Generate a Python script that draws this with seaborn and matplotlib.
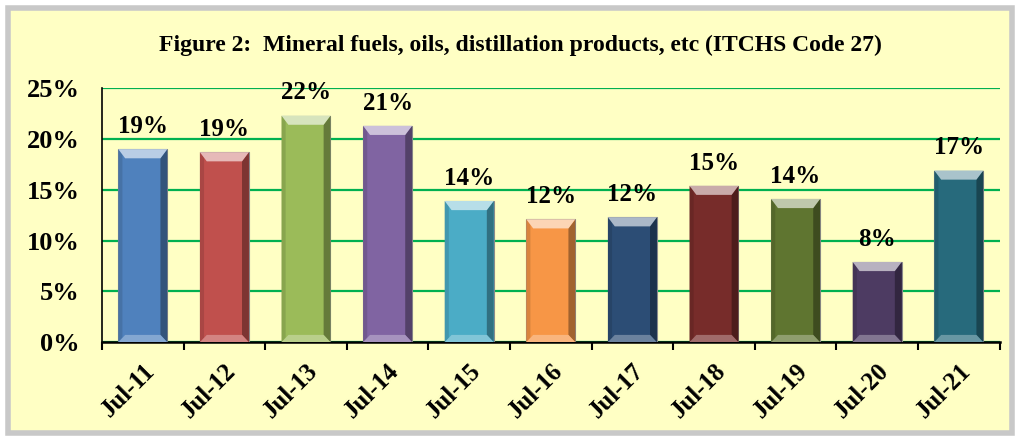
import numpy as np
import pandas as pd
import matplotlib
matplotlib.use('Agg')
import matplotlib.pyplot as plt
import seaborn as sns
from matplotlib.patches import FancyBboxPatch, Polygon
from matplotlib.colors import to_rgb
from matplotlib.ticker import FuncFormatter, MultipleLocator

months = ['Jul-11', 'Jul-12', 'Jul-13', 'Jul-14', 'Jul-15', 'Jul-16',
          'Jul-17', 'Jul-18', 'Jul-19', 'Jul-20', 'Jul-21']
share = [19.0, 18.7, 22.3, 21.3, 13.9, 12.1, 12.3, 15.4, 14.1, 7.9, 16.9]
colors = ['#4F81BD', '#C0504D', '#9BBB59', '#8064A2', '#4BACC6', '#F79646',
          '#2C4D75', '#772C2A', '#5F7530', '#4D3B62', '#276A7C']
title = 'Figure 2:  Mineral fuels, oils, distillation products, etc (ITCHS Code 27)'

df = pd.DataFrame({'month': months, 'share': share})

sns.set_style('white')
plt.rcParams['font.family'] = ['Liberation Serif', 'DejaVu Serif']
plt.rcParams['font.weight'] = 'bold'
plt.rcParams['text.color'] = 'black'
plt.rcParams['xtick.color'] = 'black'
plt.rcParams['ytick.color'] = 'black'

fig = plt.figure(figsize=(10.2, 4.41), dpi=100)
fig.patch.set_facecolor('white')
bg = FancyBboxPatch((0.008, 0.018), 0.984, 0.964, boxstyle='square,pad=0',
                    transform=fig.transFigure, facecolor='#FFFFC4',
                    edgecolor='#C8C8C8', linewidth=4, zorder=-5)
fig.add_artist(bg)

ax = fig.add_axes([0.1, 0.224, 0.88, 0.576])
ax.set_zorder(2)
ax.set_facecolor('none')
sns.barplot(data=df, x='month', y='share', hue='month', palette=colors,
            saturation=1, legend=False, width=0.6, ax=ax, zorder=3,
            edgecolor='#8A8A8A', linewidth=0.8)


def mix(c, other, t):
    a = np.array(to_rgb(c))
    b = np.array(to_rgb(other))
    return tuple(a * (1 - t) + b * t)


# bevel look: light cap on top, soft base, shaded right side
for bar, c in zip(ax.patches, colors):
    x0 = bar.get_x()
    w = bar.get_width()
    h = bar.get_height()
    d = 0.14 * w
    dy = 0.9
    cap = Polygon([(x0, h), (x0 + w, h), (x0 + w - d, h - dy), (x0 + d, h - dy)],
                  closed=True, facecolor=mix(c, 'white', 0.6), edgecolor='none',
                  zorder=4)
    base = Polygon([(x0, 0), (x0 + w, 0), (x0 + w - d, dy * 0.8), (x0 + d, dy * 0.8)],
                   closed=True, facecolor=mix(c, 'white', 0.3), edgecolor='none',
                   zorder=4)
    right = Polygon([(x0 + w, 0), (x0 + w, h), (x0 + w - d, h - dy),
                     (x0 + w - d, dy * 0.8)],
                    closed=True, facecolor=mix(c, 'black', 0.35), edgecolor='none',
                    zorder=4)
    left = Polygon([(x0, 0), (x0, h), (x0 + d * 0.6, h - dy * 0.6),
                    (x0 + d * 0.6, dy * 0.5)],
                   closed=True, facecolor=mix(c, 'black', 0.12), edgecolor='none',
                   zorder=4)
    for p in (right, left, cap, base):
        ax.add_patch(p)

ax.set_ylim(0, 25)
ax.set_xlim(-0.5, len(months) - 0.5)
ax.yaxis.set_major_locator(MultipleLocator(5))
ax.yaxis.set_major_formatter(FuncFormatter(lambda v, p: f'{v:.0f}%'))
ax.grid(axis='y', color='#00B050', linewidth=1.6, zorder=0)
ax.set_axisbelow(True)
for s in ['top', 'right']:
    ax.spines[s].set_visible(False)
ax.spines['left'].set_color('black')
ax.spines['bottom'].set_color('black')
ax.spines['left'].set_linewidth(1.2)
ax.spines['bottom'].set_linewidth(1.8)

ax.set_xticks(np.arange(len(months)))
ax.set_xticklabels(months, rotation=45, ha='right', rotation_mode='anchor',
                   fontsize=18, fontweight='bold')
ax.set_xticks(np.arange(-0.5, len(months)), minor=True)
ax.tick_params(axis='x', which='major', length=0, pad=12)
ax.tick_params(axis='x', which='minor', length=6, width=1.5, color='black',
               direction='out', bottom=True)
ax.tick_params(axis='y', labelsize=19, length=0, pad=16)
for t in ax.get_yticklabels():
    t.set_fontweight('bold')
ax.set_xlabel('')
ax.set_ylabel('')

for i, v in enumerate(share):
    ax.text(i, v + 1.1, f'{v:.0f}%', ha='center', va='bottom',
            fontsize=18, fontweight='bold', color='black', zorder=5)

fig.text(0.51, 0.898, title, ha='center', va='center', fontsize=17,
         fontweight='bold', color='black')

fig.savefig('out.png', dpi=100, facecolor=fig.get_facecolor())
